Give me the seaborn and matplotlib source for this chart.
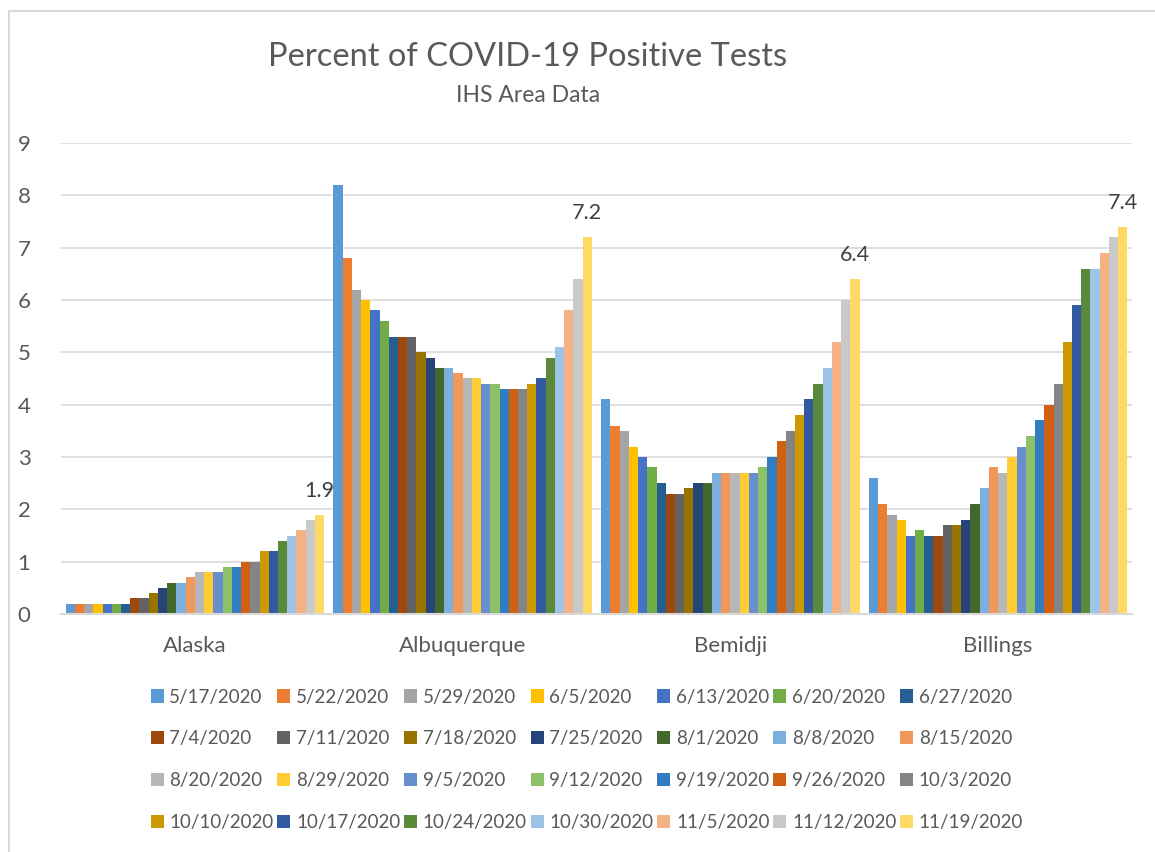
import pandas as pd
import matplotlib
matplotlib.use("Agg")
import matplotlib.pyplot as plt
from matplotlib.patches import Patch
from matplotlib.lines import Line2D
import seaborn as sns

# IHS areas and reporting dates
areas = ["Alaska", "Albuquerque", "Bemidji", "Billings"]
dates = ["5/17/2020", "5/22/2020", "5/29/2020", "6/5/2020", "6/13/2020", "6/20/2020", "6/27/2020",
         "7/4/2020", "7/11/2020", "7/18/2020", "7/25/2020", "8/1/2020", "8/8/2020", "8/15/2020",
         "8/20/2020", "8/29/2020", "9/5/2020", "9/12/2020", "9/19/2020", "9/26/2020", "10/3/2020",
         "10/10/2020", "10/17/2020", "10/24/2020", "10/30/2020", "11/5/2020", "11/12/2020", "11/19/2020"]

# percent positive per area, one value per date
alaska = [0.2, 0.2, 0.2, 0.2, 0.2, 0.2, 0.2, 0.3, 0.3, 0.4, 0.5, 0.6, 0.6, 0.7,
          0.8, 0.8, 0.8, 0.9, 0.9, 1.0, 1.0, 1.2, 1.2, 1.4, 1.5, 1.6, 1.8, 1.9]
albuquerque = [8.2, 6.8, 6.2, 6.0, 5.8, 5.6, 5.3, 5.3, 5.3, 5.0, 4.9, 4.7, 4.7, 4.6,
               4.5, 4.5, 4.4, 4.4, 4.3, 4.3, 4.3, 4.4, 4.5, 4.9, 5.1, 5.8, 6.4, 7.2]
bemidji = [4.1, 3.6, 3.5, 3.2, 3.0, 2.8, 2.5, 2.3, 2.3, 2.4, 2.5, 2.5, 2.7, 2.7,
           2.7, 2.7, 2.7, 2.8, 3.0, 3.3, 3.5, 3.8, 4.1, 4.4, 4.7, 5.2, 6.0, 6.4]
billings = [2.6, 2.1, 1.9, 1.8, 1.5, 1.6, 1.5, 1.5, 1.7, 1.7, 1.8, 2.1, 2.4, 2.8,
            2.7, 3.0, 3.2, 3.4, 3.7, 4.0, 4.4, 5.2, 5.9, 6.6, 6.6, 6.9, 7.2, 7.4]

colors = ["#5B9BD5", "#ED7D31", "#A5A5A5", "#FFC000", "#4472C4", "#70AD47", "#255E91",
          "#9E480E", "#636363", "#997300", "#264478", "#43682B", "#7CAFDD", "#F1975A",
          "#B7B7B7", "#FFCD33", "#698ED0", "#8CC168", "#327DC2", "#D26012", "#848484",
          "#CC9A00", "#335AA1", "#5A8A39", "#9DC3E6", "#F4B183", "#C9C9C9", "#FFD966"]

rows = []
for area, vals in zip(areas, [alaska, albuquerque, bemidji, billings]):
    for d, v in zip(dates, vals):
        rows.append({"area": area, "date": d, "pct": v})
df = pd.DataFrame(rows)

sns.set_theme(style="white")
plt.rcParams["font.family"] = ["Lato", "DejaVu Sans"]
text_col = "#595959"

fig = plt.figure(figsize=(11.55, 8.52), dpi=100)
ax = fig.add_axes([61 / 1155, 1 - 614 / 852, (1132 - 61) / 1155, (614 - 143) / 852])

sns.barplot(data=df, x="area", y="pct", hue="date", order=areas, hue_order=dates,
            palette=colors, saturation=1, width=28 / 29, linewidth=0, legend=False, ax=ax)

ax.set_ylim(0, 9)
ax.set_xlim(-0.5, 3.5)
ax.set_yticks(range(0, 10))
ax.yaxis.grid(True, color="#D9D9D9", linewidth=1.2)
ax.set_axisbelow(True)
for side in ["left", "right", "top"]:
    ax.spines[side].set_visible(False)
ax.spines["bottom"].set_color("#D9D9D9")
ax.spines["bottom"].set_linewidth(1.5)
ax.tick_params(axis="both", length=0, labelsize=16, labelcolor=text_col)
ax.tick_params(axis="y", pad=22)
ax.tick_params(axis="x", pad=16)
ax.set_xlabel("")
ax.set_ylabel("")

# value label only on the latest date
ax.bar_label(ax.containers[-1], fmt="%.1f", padding=10, fontsize=15.5, color="#404040")

# titles
fig.text(528 / 1155, 1 - 57 / 852, "Percent of COVID-19 Positive Tests", ha="center", va="center",
         fontsize=23.5, color=text_col)
fig.text(528 / 1155, 1 - 95 / 852, "IHS Area Data", ha="center", va="center",
         fontsize=16.5, color=text_col)

# legend, filled row by row like the original
handles = [Patch(facecolor=c, edgecolor="none") for c in colors]
order = [r * 7 + c for c in range(7) for r in range(4)]
fig.legend([handles[i] for i in order], [dates[i] for i in order], ncol=7,
           loc="upper left", bbox_to_anchor=(143 / 1155, 1 - 681 / 852), frameon=False,
           fontsize=13.5, labelcolor=text_col, handlelength=0.7, handleheight=0.7,
           handletextpad=0.3, columnspacing=0.2, labelspacing=1.33, borderaxespad=0)

# chart area border (cropped on the right and bottom)
fig.add_artist(Line2D([9 / 1155, 9 / 1155], [0, 1 - 11 / 852], color="#D9D9D9", linewidth=1.5))
fig.add_artist(Line2D([9 / 1155, 1], [1 - 11 / 852, 1 - 11 / 852], color="#D9D9D9", linewidth=1.5))

fig.savefig("out.png", dpi=100)
plt.close(fig)
